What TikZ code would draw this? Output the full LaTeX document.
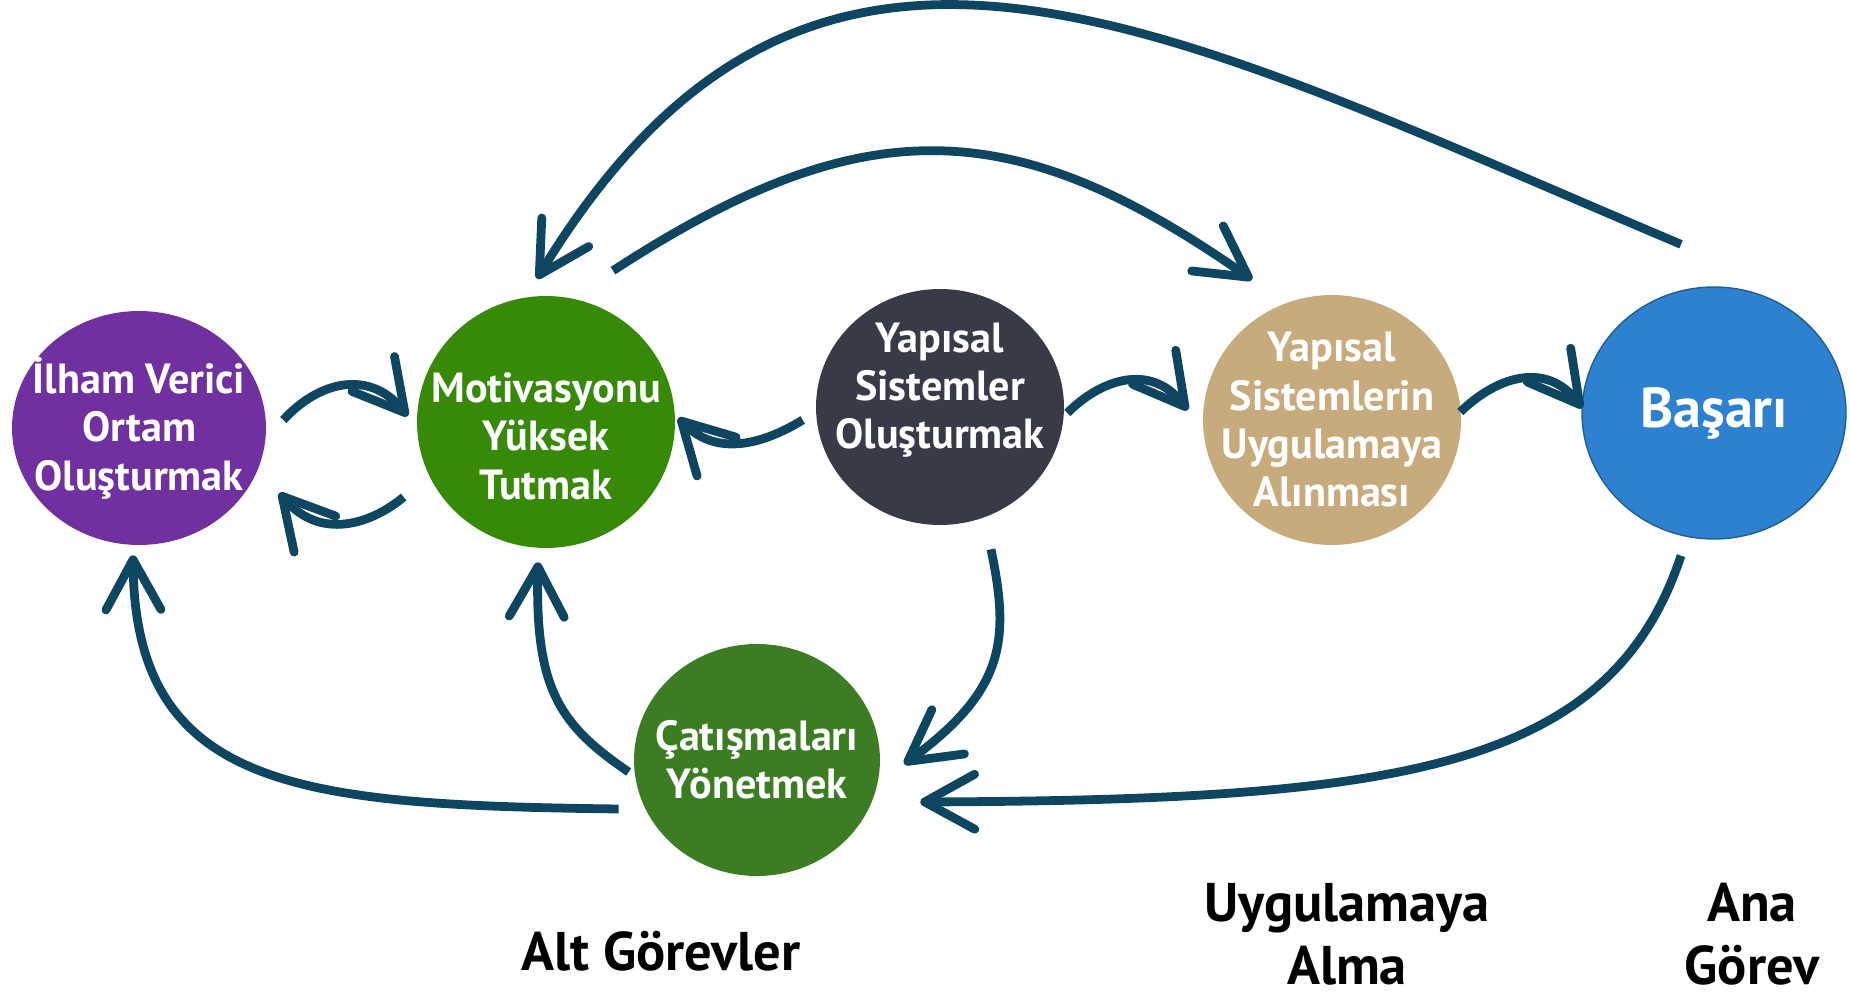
\documentclass[tikz,border=0pt]{standalone}
\usepackage{fontspec}
\setmainfont{PT Sans}
\usetikzlibrary{arrows.meta}
\usetikzlibrary{shapes.geometric}

\definecolor{arrowc}{RGB}{14,69,96}
\definecolor{ilhamc}{RGB}{112,48,160}
\definecolor{motivc}{RGB}{55,138,8}
\definecolor{yapic}{RGB}{56,58,72}
\definecolor{uygc}{RGB}{200,171,124}
\definecolor{basaric}{RGB}{46,128,208}
\definecolor{basaribd}{RGB}{31,95,142}
\definecolor{catisc}{RGB}{60,125,35}

\begin{document}
\begin{tikzpicture}
    [x=0.02cm, y=-0.02cm,
     bub/.style={ellipse, inner sep=-0.9cm, text=white, align=center, font=\bfseries\fontsize{24}{27.5}\selectfont},
     cyc/.style={draw=arrowc, line width=5pt, -{Straight Barb[length=1cm, width=1.1cm, round]}},
     lab/.style={align=center, font=\bfseries\fontsize{31}{36}\selectfont}]

    \useasboundingbox (0,0) rectangle (1850,997);

    \node [bub, fill=ilhamc, minimum width=5.08cm, minimum height=4.68cm] (ilham) at (139,428) {İlham Verici\\Ortam\\Oluşturmak};
    \node [bub, fill=motivc, minimum width=5.16cm, minimum height=5.04cm, text height=3.1cm] (motiv) at (546,422) {Motivasyonu\\Yüksek\\Tutmak};
    \node [bub, fill=yapic, minimum width=4.96cm, minimum height=4.72cm, text depth=0.85cm] (yapi) at (940,407) {Yapısal\\Sistemler\\Oluşturmak};
    \node [bub, fill=uygc, minimum width=5.16cm, minimum height=5.0cm] (uyg) at (1332,420) {Yapısal\\Sistemlerin\\Uygulamaya\\Alınması};
    \node [bub, fill=basaric, draw=basaribd, line width=0.8pt, minimum width=5.28cm, minimum height=5.04cm,
           font=\bfseries\fontsize{32}{36}\selectfont] (basari) at (1714,413) {Başarı};
    \node [bub, fill=catisc, minimum width=4.92cm, minimum height=4.64cm] (catis) at (757,760) {Çatışmaları\\Yönetmek};

    \draw [cyc] ([xshift=0.34cm, yshift=0.16cm] ilham.east) .. controls (320,380) and (370,370) .. ([xshift=-0.18cm, yshift=0.12cm] motiv.west);
    \draw [cyc] ([xshift=-0.26cm, yshift=-1.5cm] motiv.west) .. controls (370,525) and (320,540) .. ([xshift=0.26cm, yshift=-1.3cm] ilham.east);
    \draw [cyc] ([xshift=-0.26cm, yshift=-0.26cm] yapi.west) .. controls (770,440) and (720,460) .. ([xshift=0.06cm, yshift=0.08cm] motiv.east);
    \draw [cyc] ([xshift=0.06cm, yshift=-0.12cm] yapi.east) .. controls (1100,380) and (1150,362) .. ([xshift=-0.3cm, yshift=0.2cm] uyg.west);
    \draw [cyc] ([xshift=-0.02cm, yshift=0.16cm] uyg.east) .. controls (1495,378) and (1545,360) .. ([xshift=0.02cm, yshift=0.1cm] basari.west);

    \draw [cyc] ([xshift=-0.66cm, yshift=0.84cm] basari.north) .. controls (1150,20) and (810,-170) .. ([xshift=-0.18cm, yshift=0.34cm] motiv.north);
    \draw [cyc] ([xshift=1.34cm, yshift=0.5cm] motiv.north) .. controls (860,110) and (1010,110) .. ([xshift=-1.6cm, yshift=0.3cm] uyg.north);

    \draw [cyc] ([xshift=1.02cm, yshift=-0.48cm] yapi.south) .. controls (1010,640) and (1005,690) .. ([xshift=0.48cm, yshift=-0.08cm] catis.east);
    \draw [cyc] ([xshift=-0.66cm, yshift=-0.32cm] basari.south) .. controls (1610,770) and (1400,800) .. ([xshift=0.8cm, yshift=-0.84cm] catis.east);
    \draw [cyc] ([xshift=-0.3cm, yshift=-0.98cm] catis.west) .. controls (300,805) and (135,790) .. ([xshift=-0.12cm, yshift=-0.2cm] ilham.south);
    \draw [cyc] ([xshift=-0.1cm, yshift=-0.24cm] catis.west) .. controls (560,725) and (535,690) .. ([xshift=-0.16cm, yshift=-0.28cm] motiv.south);

    \node [lab] (altg) at (661,951) {Alt Görevler};
    \node [lab] (uyga) at (1347,934) {Uygulamaya\\Alma};
    \node [lab] (anag) at (1752,934) {Ana\\Görev};
\end{tikzpicture}
\end{document}
